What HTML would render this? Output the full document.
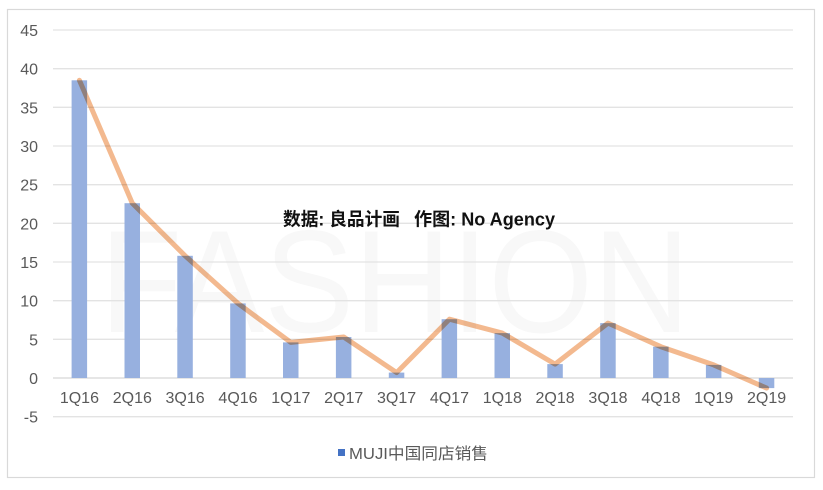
<!DOCTYPE html>
<html>
<head>
<meta charset="utf-8">
<style>
  html,body{margin:0;padding:0;background:#fff;}
  svg{display:block;}
  .t{font-family:"Liberation Sans","Noto Sans CJK SC",sans-serif;fill:#595959;font-size:16px;}
</style>
</head>
<body>
<svg width="823" height="490" viewBox="0 0 823 490" xmlns="http://www.w3.org/2000/svg">
  <rect x="0" y="0" width="823" height="490" fill="#fff"/>
  <rect x="7.5" y="9.5" width="807" height="468" fill="#fff" stroke="#d9d9d9" stroke-width="1.2"/>

  <!-- watermark -->
  <text x="100" y="332" font-family="Liberation Sans, sans-serif" font-size="146" fill="#f8f8f8" textLength="590" lengthAdjust="spacingAndGlyphs">FASHION</text>

  <!-- gridlines -->
  <g stroke="#e3e3e3" stroke-width="1.3">
    <line x1="53" y1="30" x2="793" y2="30"/>
    <line x1="53" y1="68.7" x2="793" y2="68.7"/>
    <line x1="53" y1="107.3" x2="793" y2="107.3"/>
    <line x1="53" y1="146" x2="793" y2="146"/>
    <line x1="53" y1="184.7" x2="793" y2="184.7"/>
    <line x1="53" y1="223.3" x2="793" y2="223.3"/>
    <line x1="53" y1="262" x2="793" y2="262"/>
    <line x1="53" y1="300.7" x2="793" y2="300.7"/>
    <line x1="53" y1="339.3" x2="793" y2="339.3"/>
    <line x1="53" y1="416.7" x2="793" y2="416.7"/>
  </g>
  <line x1="53" y1="378" x2="793" y2="378" stroke="#d6d6d6" stroke-width="1.3"/>

  <!-- y labels -->
  <g class="t" text-anchor="end">
    <text x="38" y="36">45</text>
    <text x="38" y="74.7">40</text>
    <text x="38" y="113.3">35</text>
    <text x="38" y="152">30</text>
    <text x="38" y="190.7">25</text>
    <text x="38" y="229.3">20</text>
    <text x="38" y="268">15</text>
    <text x="38" y="306.7">10</text>
    <text x="38" y="345.3">5</text>
    <text x="38" y="384">0</text>
    <text x="38" y="422.7">-5</text>
  </g>

  <!-- bars -->
  <g fill="#97b0df">
    <rect x="71.6" y="80.3" width="15.5" height="297.7"/>
    <rect x="124.5" y="203.2" width="15.5" height="174.8"/>
    <rect x="177.3" y="255.8" width="15.5" height="122.2"/>
    <rect x="230.2" y="303.4" width="15.5" height="74.6"/>
    <rect x="283" y="342.4" width="15.5" height="35.6"/>
    <rect x="335.9" y="337" width="15.5" height="41"/>
    <rect x="388.8" y="372.6" width="15.5" height="5.4"/>
    <rect x="441.6" y="319.2" width="15.5" height="58.8"/>
    <rect x="494.5" y="333.1" width="15.5" height="44.9"/>
    <rect x="547.3" y="364.1" width="15.5" height="13.9"/>
    <rect x="600.2" y="323.1" width="15.5" height="54.9"/>
    <rect x="653.1" y="346.7" width="15.5" height="31.3"/>
    <rect x="705.9" y="364.9" width="15.5" height="13.1"/>
    <rect x="758.8" y="378" width="15.5" height="10.1"/>
  </g>

  <!-- line -->
  <polyline points="79.4,80.3 132.3,203.2 185.1,255.8 238,303.4 290.8,342.4 343.7,337 396.6,372.6 449.4,319.2 502.3,333.1 555.1,364.1 608,323.1 660.9,346.7 713.7,364.9 766.6,388.1"
    fill="none" stroke="#f2b080" stroke-width="5" stroke-linejoin="round" stroke-linecap="round" opacity="0.88" style="mix-blend-mode:multiply"/>

  <!-- x labels -->
  <g class="t" text-anchor="middle">
    <text x="79.4" y="403">1Q16</text>
    <text x="132.3" y="403">2Q16</text>
    <text x="185.1" y="403">3Q16</text>
    <text x="238" y="403">4Q16</text>
    <text x="290.8" y="403">1Q17</text>
    <text x="343.7" y="403">2Q17</text>
    <text x="396.6" y="403">3Q17</text>
    <text x="449.4" y="403">4Q17</text>
    <text x="502.3" y="403">1Q18</text>
    <text x="555.1" y="403">2Q18</text>
    <text x="608" y="403">3Q18</text>
    <text x="660.9" y="403">4Q18</text>
    <text x="713.7" y="403">1Q19</text>
    <text x="766.6" y="403">2Q19</text>
  </g>

  <!-- title / source -->
  <g font-family="Liberation Sans, Noto Sans CJK SC, sans-serif" font-size="18" font-weight="bold" fill="#111">
    <text x="283" y="225.5" textLength="117" lengthAdjust="spacingAndGlyphs">数据: 良品计画</text>
    <text x="414" y="225.5" textLength="141" lengthAdjust="spacingAndGlyphs">作图: No Agency</text>
  </g>

  <!-- legend -->
  <rect x="338" y="449" width="7" height="7" fill="#4472c4"/>
  <text class="t" x="349" y="459" textLength="139" lengthAdjust="spacingAndGlyphs">MUJI中国同店销售</text>
</svg>
</body>
</html>
